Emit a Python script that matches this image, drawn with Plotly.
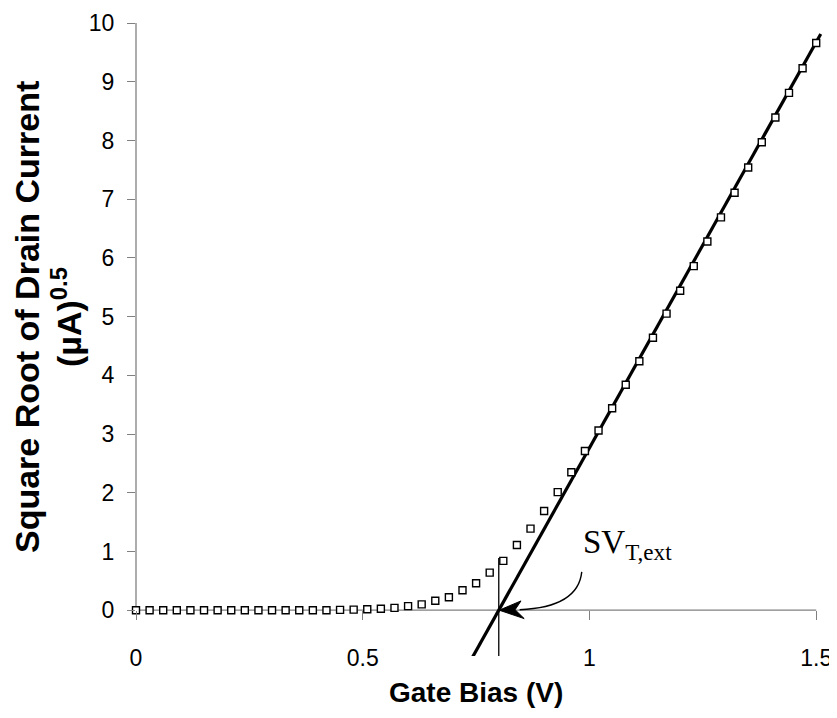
import plotly.graph_objects as go

# ---------------- data ----------------
gate_bias = [0.00, 0.03, 0.06, 0.09, 0.12, 0.15, 0.18, 0.21, 0.24, 0.27,
             0.30, 0.33, 0.36, 0.39, 0.42, 0.45, 0.48, 0.51, 0.54, 0.57,
             0.60, 0.63, 0.66, 0.69, 0.72, 0.75, 0.78, 0.81, 0.84, 0.87,
             0.90, 0.93, 0.96, 0.99, 1.02, 1.05, 1.08, 1.11, 1.14, 1.17,
             1.20, 1.23, 1.26, 1.29, 1.32, 1.35, 1.38, 1.41, 1.44, 1.47,
             1.50]
sqrt_drain_current = [0.00, 0.00, 0.00, 0.00, 0.00, 0.00, 0.00, 0.00, 0.00, 0.00,
                      0.00, 0.00, 0.00, 0.00, 0.00, 0.005, 0.01, 0.015, 0.025, 0.04,
                      0.07, 0.10, 0.16, 0.22, 0.34, 0.46, 0.64, 0.84, 1.11, 1.39,
                      1.69, 2.01, 2.35, 2.71, 3.06, 3.44, 3.84, 4.24, 4.64, 5.05,
                      5.44, 5.86, 6.28, 6.69, 7.11, 7.54, 7.97, 8.39, 8.81, 9.23,
                      9.66]

# linear extrapolation of the saturation region
vt_ext = 0.80
fit_slope = 13.82
fit_x = [0.74, 1.51]
fit_y = [fit_slope * (v - vt_ext) for v in fit_x]

# vertical marker at the extrapolated threshold
vt_marker_x = [vt_ext, vt_ext]
vt_marker_y = [-1.0, 0.89]

x_tick_vals = [0, 0.5, 1, 1.5]
x_tick_text = ["0", "0.5", "1", "1.5"]
y_tick_vals = [0, 1, 2, 3, 4, 5, 6, 7, 8, 9, 10]
y_tick_text = ["0", "1", "2", "3", "4", "5", "6", "7", "8", "9", "10"]

# ---------------- figure ----------------
# the page body adds an 8 px offset on every side
W, H = 829, 702
ML, MR, MT, MB = 128, 14, 15, 54
PW, PH = W - ML - MR, H - MT - MB

X_RANGE = [0, 1.515]
Y_RANGE = [-0.78, 10]
AX_GREY = "#808080"
x_axis_pos = (0 - Y_RANGE[0]) / (Y_RANGE[1] - Y_RANGE[0])


def px_x(p):  # screen pixel -> paper x
    return (p - 8 - ML) / PW


def px_y(p):  # screen pixel -> paper y
    return (H - MB - (p - 8)) / PH


fig = go.Figure()

fig.add_trace(go.Scatter(
    x=fit_x, y=fit_y, mode="lines",
    line=dict(color="black", width=3.2),
    showlegend=False, hoverinfo="skip"))

fig.add_trace(go.Scatter(
    x=vt_marker_x, y=vt_marker_y, mode="lines",
    line=dict(color="black", width=1.3),
    showlegend=False, hoverinfo="skip"))

fig.add_trace(go.Scatter(
    x=gate_bias, y=sqrt_drain_current, mode="markers",
    marker=dict(symbol="square", size=7, color="white",
                line=dict(color="black", width=1.4)),
    cliponaxis=False, showlegend=False))

# axis lines (x axis sits at y = 0, y axis runs from 0 to 10)
fig.add_shape(type="line", xref="x", yref="y", x0=0, x1=1.5, y0=0, y1=0,
              line=dict(color=AX_GREY, width=1.3), layer="below")
fig.add_shape(type="line", xref="paper", yref="y", x0=0, x1=0, y0=0, y1=10,
              line=dict(color=AX_GREY, width=1.3), layer="below")

# curved arrow pointing to the threshold voltage
fig.add_shape(type="path", xref="x", yref="y",
              path="M 0.983,0.653 Q 0.975,0.051 0.846,0.0085",
              line=dict(color="black", width=1.4))
fig.add_shape(type="path", xref="x", yref="y",
              path="M 0.801,0 L 0.849,0.158 L 0.836,0.008 L 0.856,-0.143 Z",
              fillcolor="black", line=dict(color="black", width=1))

fig.add_annotation(
    xref="x", yref="y", x=0.982, y=1.12, xanchor="left", yanchor="middle",
    text="SV<sub>T,ext</sub>", showarrow=False,
    font=dict(family="Liberation Serif", size=33, color="black"))

# axis titles
fig.add_annotation(
    xref="paper", yref="paper", x=px_x(476), y=px_y(692),
    xanchor="center", yanchor="middle", showarrow=False,
    text="<b>Gate Bias (V)</b>",
    font=dict(family="Liberation Sans", size=28, color="black"))
fig.add_annotation(
    xref="paper", yref="paper", x=px_x(27), y=px_y(317),
    xanchor="center", yanchor="middle", showarrow=False, textangle=-90,
    text="<b>Square Root of Drain Current</b>",
    font=dict(family="Liberation Sans", size=34, color="black"))
fig.add_annotation(
    xref="paper", yref="paper", x=px_x(66), y=px_y(317),
    xanchor="center", yanchor="middle", showarrow=False, textangle=-90,
    text="<b>(µA)<sup>0.5</sup></b>",
    font=dict(family="Liberation Sans", size=34, color="black"))

fig.update_layout(
    width=W, height=H, autosize=False,
    margin=dict(l=ML, r=MR, t=MT, b=MB, pad=0, autoexpand=False),
    paper_bgcolor="white", plot_bgcolor="white",
    font=dict(family="Liberation Sans", size=23, color="black"),
    xaxis=dict(range=X_RANGE, anchor="free", position=x_axis_pos,
               automargin=False, ticklabeloverflow="allow",
               tickmode="array", tickvals=x_tick_vals, ticktext=x_tick_text,
               ticks="outside", ticklen=9, tickwidth=1.3, tickcolor=AX_GREY,
               showline=False, showgrid=False, zeroline=False,
               ticklabelstandoff=18,
               tickfont=dict(family="Liberation Sans", size=23, color="black")),
    xaxis2=dict(range=X_RANGE, overlaying="x", anchor="free", position=x_axis_pos,
                automargin=False,
                tickmode="array", tickvals=x_tick_vals,
                ticks="inside", ticklen=9, tickwidth=1.3, tickcolor=AX_GREY,
                showticklabels=False, showline=False, showgrid=False,
                zeroline=False),
    yaxis=dict(range=Y_RANGE, tickmode="array", tickvals=y_tick_vals,
               automargin=False,
               ticktext=y_tick_text,
               ticks="outside", ticklen=8, tickwidth=1.3, tickcolor=AX_GREY,
               showline=False, showgrid=False, zeroline=False,
               ticklabelstandoff=8,
               tickfont=dict(family="Liberation Sans", size=23, color="black")),
)

fig.write_html("out.html")
